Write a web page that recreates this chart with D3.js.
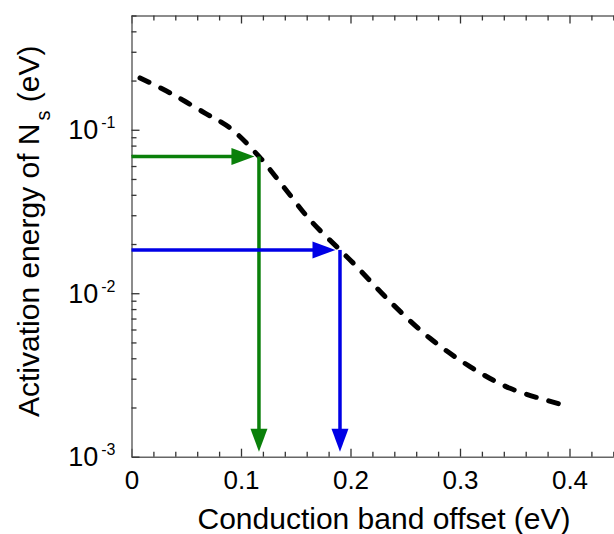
<!DOCTYPE html>
<html>
<head>
<meta charset="utf-8">
<script src="https://cdn.jsdelivr.net/npm/d3@7"></script>
<style>
  html, body { margin: 0; padding: 0; background: #fff; }
  svg { display: block; font-family: "Liberation Sans", Arial, Helvetica, sans-serif; }
</style>
</head>
<body>
<svg id="chart" width="614" height="534"></svg>
<script>
// ---- data ----
const xMajorTicks = [0, 0.1, 0.2, 0.3, 0.4];
const xTickLabels = ["0", "0.1", "0.2", "0.3", "0.4"];
const yMajorTicks = [1e-3, 1e-2, 1e-1];
const yTickExponents = ["-3", "-2", "-1"];
const curveX = [0.0078, 0.0352, 0.0671, 0.0900, 0.1164, 0.1386, 0.1630, 0.1904, 0.2026, 0.2361, 0.2726, 0.3091, 0.3457, 0.3913];
const curveY = [0.2075, 0.168, 0.1265, 0.1025, 0.0687, 0.045, 0.0281, 0.0184, 0.01527, 0.00889, 0.0053, 0.00356, 0.00262, 0.0021];
const arrowX = [0.1164, 0.1904];
const arrowY = [0.0687, 0.0184];
const xTitle = "Conduction band offset (eV)";
const yTitleMain = "Activation energy of N";
const yTitleSub = "s";
const yTitleEnd = " (eV)";

// ---- layout ----
const svg = d3.select("#chart");
const pLeft = 131.5, pRight = 613.5, pTop = 15.5, pBottom = 456.7;
const x = d3.scaleLinear().domain([0, 0.44]).range([pLeft, pLeft + 0.44 / 0.1 * 109.5]);
const y = d3.scaleLog().domain([1e-3, 0.5]).range([pBottom, pTop]);
const axisColor = "#666";
const tickColor = "#333";
const arrowColors = ["#0a800a", "#0000e6"];

// minor ticks
const xMinor = d3.range(0, 0.4401, 0.02).filter(v => Math.abs(v * 10 - Math.round(v * 10)) > 1e-6);
const yMinor = [];
[1e-3, 1e-2, 1e-1].forEach(d => { for (let k = 2; k <= 9; k++) { const v = d * k; if (v <= 0.5001) yMinor.push(v); } });

function styleAxis(g) {
  g.select(".domain").attr("stroke", axisColor).attr("stroke-width", 1.5);
  g.selectAll(".tick line").attr("stroke", tickColor).attr("stroke-width", 1.3);
}

// bottom axis
svg.append("g").attr("transform", `translate(0,${pBottom})`)
  .call(d3.axisBottom(x).tickValues(xMinor).tickSize(-5).tickSizeOuter(0).tickFormat(""))
  .call(styleAxis);
const xb = svg.append("g").attr("transform", `translate(0,${pBottom})`)
  .call(d3.axisBottom(x).tickValues(xMajorTicks).tickSize(-8).tickSizeOuter(0).tickPadding(14)
    .tickFormat((d, i) => xTickLabels[i]))
  .call(styleAxis);
xb.select(".domain").remove();
xb.selectAll(".tick text").attr("font-size", 26).attr("fill", "#000")
  .attr("font-family", "'Liberation Sans', Arial, sans-serif");

// top axis
svg.append("g").attr("transform", `translate(0,${pTop})`)
  .call(d3.axisTop(x).tickValues(xMinor).tickSize(-5).tickSizeOuter(0).tickFormat(""))
  .call(styleAxis);
const xt = svg.append("g").attr("transform", `translate(0,${pTop})`)
  .call(d3.axisTop(x).tickValues(xMajorTicks).tickSize(-8).tickSizeOuter(0).tickFormat(""))
  .call(styleAxis);
xt.select(".domain").remove();

// left axis
svg.append("g").attr("transform", `translate(${pLeft},0)`)
  .call(d3.axisLeft(y).tickValues(yMinor).tickSize(-5).tickSizeOuter(0).tickFormat(""))
  .call(styleAxis);
const yl = svg.append("g").attr("transform", `translate(${pLeft},0)`)
  .call(d3.axisLeft(y).tickValues(yMajorTicks).tickSize(-8).tickSizeOuter(0).tickFormat(""))
  .call(styleAxis);
yl.select(".domain").remove();
yl.selectAll(".tick").each(function(d, i) {
  const t = d3.select(this).append("text")
    .attr("x", -16).attr("y", 9)
    .attr("text-anchor", "end").attr("fill", "#000")
    .attr("font-family", "'Liberation Sans', Arial, sans-serif")
    .attr("font-size", 27);
  t.append("tspan").text("10");
  t.append("tspan").attr("dx", 3).attr("dy", -11).attr("font-size", 16).text(yTickExponents[i]);
});

// dashed curve
const pts = curveX.map((v, i) => [v, curveY[i]]);
svg.append("path")
  .datum(pts)
  .attr("fill", "none")
  .attr("stroke", "#000")
  .attr("stroke-width", 5)
  .attr("stroke-linecap", "round")
  .attr("stroke-dasharray", "10,13")
  .attr("d", d3.line().x(d => x(d[0])).y(d => y(d[1])).curve(d3.curveCatmullRom.alpha(0.5)));

// arrows
const headLen = 23, headHalf = 8.5, lw = 3.5;
arrowX.forEach((ax, i) => {
  const c = arrowColors[i];
  const px = x(ax), py = y(arrowY[i]);
  const g = svg.append("g");
  const tipH = px - 4.5;
  g.append("line").attr("x1", x(0)).attr("x2", tipH - headLen + 2).attr("y1", py).attr("y2", py)
    .attr("stroke", c).attr("stroke-width", lw);
  g.append("path").attr("fill", c)
    .attr("d", `M${tipH},${py} L${tipH - headLen},${py - headHalf} L${tipH - headLen},${py + headHalf} Z`);
  const tipV = y(1e-3) - 5;
  g.append("line").attr("x1", px).attr("x2", px).attr("y1", py).attr("y2", tipV - headLen + 2)
    .attr("stroke", c).attr("stroke-width", lw);
  g.append("path").attr("fill", c)
    .attr("d", `M${px},${tipV} L${px - headHalf},${tipV - headLen} L${px + headHalf},${tipV - headLen} Z`);
});

// titles
svg.append("text")
  .attr("x", 384).attr("y", 529)
  .attr("text-anchor", "middle").attr("font-size", 30).attr("fill", "#000")
  .text(xTitle);

const yt = svg.append("text")
  .attr("transform", "translate(38.5,417) rotate(-90)")
  .attr("x", 0).attr("y", 0)
  .attr("text-anchor", "start").attr("font-size", 30).attr("fill", "#000");
yt.append("tspan").text(yTitleMain);
yt.append("tspan").attr("dx", 3).attr("dy", 11).attr("font-size", 20).text(yTitleSub);
yt.append("tspan").attr("dy", -11).attr("font-size", 30).text(yTitleEnd);
</script>
</body>
</html>
